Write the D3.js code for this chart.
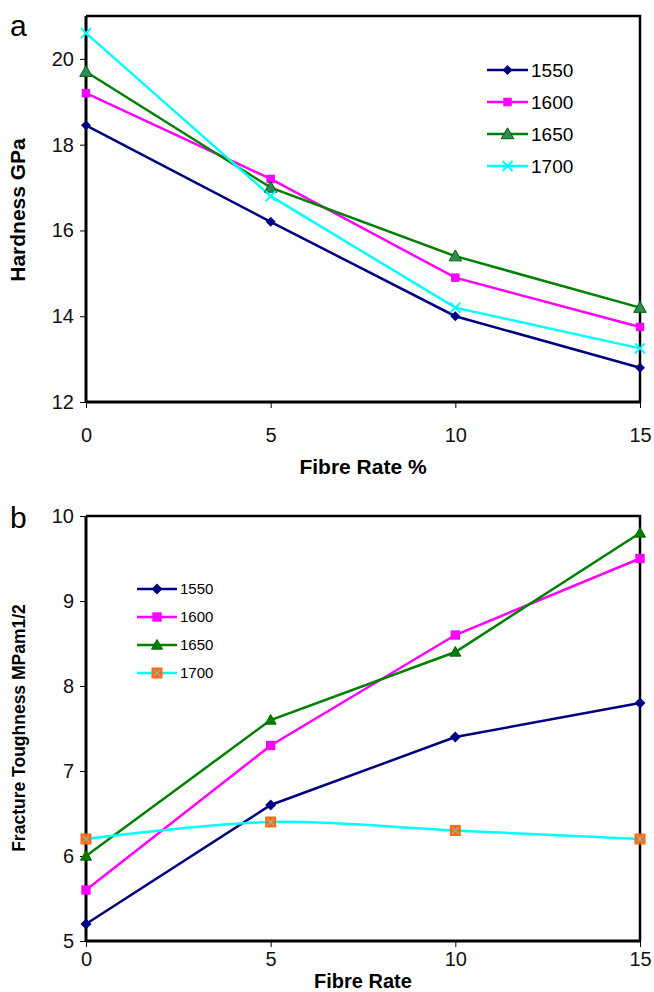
<!DOCTYPE html>
<html>
<head>
<meta charset="utf-8">
<script src="https://cdn.jsdelivr.net/npm/d3@7"></script>
<style>
  body { margin: 0; background: #fff; }
  text { font-family: "Liberation Sans", Arial, sans-serif; }
</style>
</head>
<body>
<script>
let w = 654;
let h = 992;

let fibreRates = [0, 5, 10, 15];
let temps = ["1550", "1600", "1650", "1700"];

// panel a - hardness GPa
let hard1550 = [18.45, 16.2, 14.0, 12.8];
let hard1600 = [19.2, 17.2, 14.9, 13.75];
let hard1650 = [19.7, 17.0, 15.4, 14.2];
let hard1700 = [20.6, 16.8, 14.2, 13.25];
let hardTicks = [12, 14, 16, 18, 20];

// panel b - fracture toughness
let tough1550 = [5.2, 6.6, 7.4, 7.8];
let tough1600 = [5.6, 7.3, 8.6, 9.5];
let tough1650 = [6.0, 7.6, 8.4, 9.8];
let tough1700 = [6.2, 6.4, 6.3, 6.2];
let toughTicks = [5, 6, 7, 8, 9, 10];

let xTicks = [0, 5, 10, 15];

let colors = {"1550": "#000080", "1600": "#ff00ff", "1650": "#008000", "1700": "#00ffff"};

let svg = d3.select("body")
    .append("svg")
    .attr("width", w)
    .attr("height", h)

function drawMarker(g, kind, x, y, s, panel) {
    if (kind === "1550") {
        g.append("path")
            .attr("d", `M${x},${y - s}L${x + s},${y}L${x},${y + s}L${x - s},${y}Z`)
            .attr("fill", "#000080")
    } else if (kind === "1600") {
        g.append("rect")
            .attr("x", x - s * 0.85).attr("y", y - s * 0.85)
            .attr("width", s * 1.7).attr("height", s * 1.7)
            .attr("fill", "#ff00ff")
    } else if (kind === "1650") {
        let t = panel === "a" ? s * 1.25 : s;
        g.append("path")
            .attr("d", `M${x},${y - t}L${x + t},${y + t * 0.75}L${x - t},${y + t * 0.75}Z`)
            .attr("fill", panel === "a" ? "#2e8b57" : "#008000")
            .attr("stroke", "#006400")
            .attr("stroke-width", 1)
    } else if (panel === "a") {
        g.append("path")
            .attr("d", `M${x - s},${y - s}L${x + s},${y + s}M${x - s},${y + s}L${x + s},${y - s}`)
            .attr("stroke", "#00ffff")
            .attr("stroke-width", 2)
    } else {
        g.append("rect")
            .attr("x", x - s).attr("y", y - s)
            .attr("width", s * 2).attr("height", s * 2)
            .attr("fill", "#ff6a13")
        g.append("path")
            .attr("d", `M${x - s * 0.6},${y - s * 0.6}L${x + s * 0.6},${y + s * 0.6}M${x - s * 0.6},${y + s * 0.6}L${x + s * 0.6},${y - s * 0.6}`)
            .attr("stroke", "#7fbfae")
            .attr("stroke-width", 1.2)
    }
}

function panel(opts) {
    let x = d3.scaleLinear().domain([0, 15]).range([opts.left, opts.right]);
    let y = d3.scaleLinear().domain(opts.yDomain).range([opts.bottom, opts.top]);

    let g = svg.append("g");

    // frame top + right
    g.append("path")
        .attr("d", `M${opts.left},${opts.top}H${opts.right}V${opts.bottom}`)
        .attr("fill", "none")
        .attr("stroke", "#000")
        .attr("stroke-width", 2.5)

    let yAxis = g.append("g")
        .attr("transform", `translate(${opts.left},0)`)
        .call(d3.axisLeft(y).tickValues(opts.yTicks).tickSize(6).tickPadding(6).tickFormat(d3.format("d")))
    yAxis.select(".domain").attr("stroke-width", 3).attr("d", `M0,${opts.top}V${opts.bottom}`)
    yAxis.selectAll("text").attr("font-size", 20).attr("fill", "#111")

    let xAxis = g.append("g")
        .attr("transform", `translate(0,${opts.bottom})`)
        .call(d3.axisBottom(x).tickValues(xTicks).tickSize(6).tickPadding(opts.xPad))
    xAxis.select(".domain").attr("stroke-width", 3).attr("d", `M${opts.left},0H${opts.right}`)
    xAxis.selectAll("text").attr("font-size", 20).attr("fill", "#111")

    g.append("text")
        .attr("x", (opts.left + opts.right) / 2)
        .attr("y", opts.xTitleY)
        .attr("text-anchor", "middle")
        .attr("font-size", opts.xTitleSize)
        .attr("font-weight", "bold")
        .text(opts.xTitle)

    g.append("text")
        .attr("transform", `translate(25,${opts.yTitleY}) rotate(-90)`)
        .attr("text-anchor", "middle")
        .attr("font-size", opts.yTitleSize)
        .attr("font-weight", "bold")
        .text(opts.yTitle)

    g.append("text")
        .attr("x", 10)
        .attr("y", opts.labelY)
        .attr("font-size", 30)
        .text(opts.label)

    opts.series.forEach((vals, i) => {
        let t = temps[i];
        let line = d3.line()
            .x((d, j) => x(fibreRates[j]))
            .y(d => y(d))
        if (opts.smooth && opts.smooth[i]) line.curve(d3.curveCatmullRom.alpha(0.5));
        g.append("path")
            .datum(vals)
            .attr("d", line)
            .attr("fill", "none")
            .attr("stroke", colors[t])
            .attr("stroke-width", 2.5)
    });
    opts.series.forEach((vals, i) => {
        vals.forEach((v, j) => drawMarker(g, temps[i], x(fibreRates[j]), y(v), opts.markerSize, opts.label));
    });

    // legend
    let lg = g.append("g");
    temps.forEach((t, i) => {
        let ly = opts.legY + i * opts.legStep;
        lg.append("line")
            .attr("x1", opts.legX).attr("x2", opts.legX + opts.legLen)
            .attr("y1", ly).attr("y2", ly)
            .attr("stroke", colors[t])
            .attr("stroke-width", 2.5)
        drawMarker(lg, t, opts.legX + opts.legLen / 2, ly, opts.markerSize, opts.label);
        lg.append("text")
            .attr("x", opts.legX + opts.legLen + 3)
            .attr("y", ly)
            .attr("dy", "0.35em")
            .attr("font-size", opts.legFont)
            .text(t)
    });
}

panel({
    label: "a", labelY: 36,
    left: 86, right: 640, top: 16, bottom: 402,
    yDomain: [12, 21], yTicks: hardTicks,
    series: [hard1550, hard1600, hard1650, hard1700],
    xPad: 20,
    xTitle: "Fibre Rate %", xTitleY: 474, xTitleSize: 21,
    yTitle: "Hardness GPa", yTitleY: 210, yTitleSize: 21,
    markerSize: 5,
    legX: 487, legLen: 41, legY: 70, legStep: 32, legFont: 19
})

panel({
    label: "b", labelY: 528,
    left: 86, right: 640, top: 516, bottom: 941,
    yDomain: [5, 10], yTicks: toughTicks,
    series: [tough1550, tough1600, tough1650, tough1700],
    smooth: [false, false, false, true],
    xPad: 5,
    xTitle: "Fibre Rate", xTitleY: 988, xTitleSize: 20,
    yTitle: "Fracture Toughness MPam1/2", yTitleY: 728, yTitleSize: 17.5,
    markerSize: 5.5,
    legX: 137, legLen: 40, legY: 589, legStep: 28, legFont: 15
})
</script>
</body>
</html>
